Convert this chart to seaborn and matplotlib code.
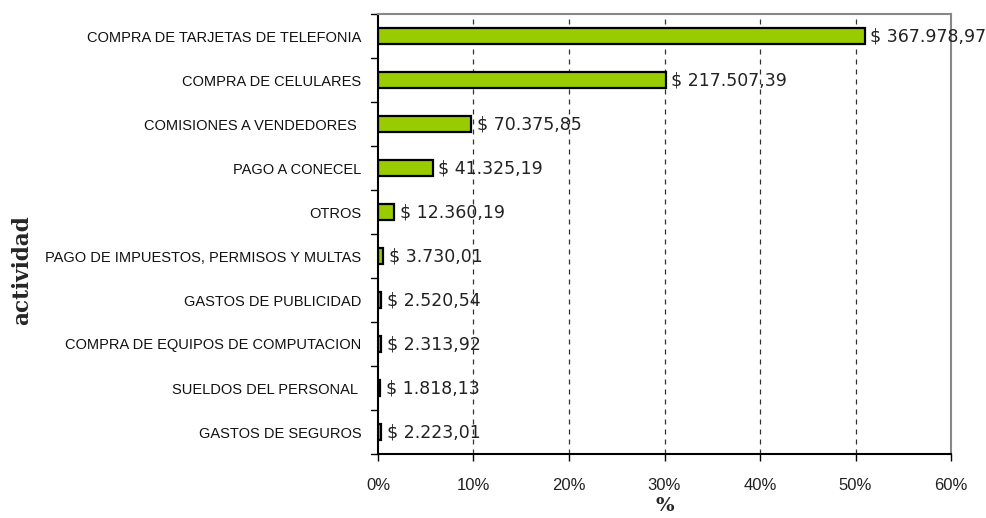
import matplotlib
matplotlib.use("Agg")
import matplotlib.pyplot as plt
import seaborn as sns
import pandas as pd
from matplotlib.ticker import PercentFormatter, FixedLocator

categories = [
    "COMPRA DE TARJETAS DE TELEFONIA",
    "COMPRA DE CELULARES",
    "COMISIONES A VENDEDORES ",
    "PAGO A CONECEL",
    "OTROS",
    "PAGO DE IMPUESTOS, PERMISOS Y MULTAS",
    "GASTOS DE PUBLICIDAD",
    "COMPRA DE EQUIPOS DE COMPUTACION",
    "SUELDOS DEL PERSONAL ",
    "GASTOS DE SEGUROS",
]
percent = [50.96, 30.12, 9.75, 5.72, 1.71, 0.52, 0.35, 0.32, 0.25, 0.31]
amount_labels = [
    "$ 367.978,97", "$ 217.507,39", "$ 70.375,85", "$ 41.325,19", "$ 12.360,19",
    "$ 3.730,01", "$ 2.520,54", "$ 2.313,92", "$ 1.818,13", "$ 2.223,01",
]

df = pd.DataFrame({"actividad": categories, "pct": percent})

sns.set_style("white")
plt.rcParams["font.family"] = ["DejaVu Sans"]

fig = plt.figure(figsize=(9.87, 5.18), dpi=100)
ax = fig.add_axes([378 / 987, 1 - 454 / 518, (951 - 378) / 987, (454 - 14) / 518])

sns.barplot(data=df, x="pct", y="actividad", orient="h", color="#99CC00",
            saturation=1, edgecolor="black", linewidth=1.6, width=0.38, ax=ax)

ax.set_xlim(0, 60)
ax.set_ylim(9.5, -0.5)
ax.xaxis.set_major_locator(FixedLocator([0, 10, 20, 30, 40, 50, 60]))
ax.xaxis.set_major_formatter(PercentFormatter(decimals=0))
for x in [10, 20, 30, 40, 50]:
    ax.axvline(x, color="#333333", linestyle=(0, (4, 4)), linewidth=0.9, zorder=0)

for i, (p, lab) in enumerate(zip(percent, amount_labels)):
    ax.annotate(lab, xy=(p, i), xytext=(4, 0), textcoords="offset points",
                ha="left", va="center", fontsize=12.5, color="#222222",
                family="DejaVu Sans")

# y ticks between categories
ax.set_yticks(range(len(categories)))
ax.set_yticklabels(categories, fontsize=10.5, family="Liberation Sans", color="#111111")
ax.tick_params(axis="y", length=0, pad=12)
for yb in [i - 0.5 for i in range(len(categories) + 1)]:
    ax.plot([-0.012, 0], [yb, yb], transform=ax.get_yaxis_transform(),
            color="black", linewidth=1, clip_on=False)
ax.tick_params(axis="x", length=5, width=1, color="black", direction="out",
               labelsize=12, pad=12)
for t in ax.get_xticklabels():
    t.set_family("Liberation Sans")
    t.set_color("#222222")
ax.xaxis.set_ticks_position("bottom")

for side in ["top", "right"]:
    ax.spines[side].set_color("#888888")
    ax.spines[side].set_linewidth(1.5)
for side in ["left", "bottom"]:
    ax.spines[side].set_color("black")
    ax.spines[side].set_linewidth(1.5)
    ax.spines[side].set_visible(True)

ax.set_xlabel("%", fontsize=14, fontweight="bold", family="DejaVu Serif", labelpad=3)
ax.set_ylabel("")
fig.text(22 / 987, 1 - 270 / 518, "actividad", rotation=90, fontsize=15.5,
         fontweight="bold", family="DejaVu Serif", ha="center", va="center")

fig.savefig("out.png", dpi=100)
